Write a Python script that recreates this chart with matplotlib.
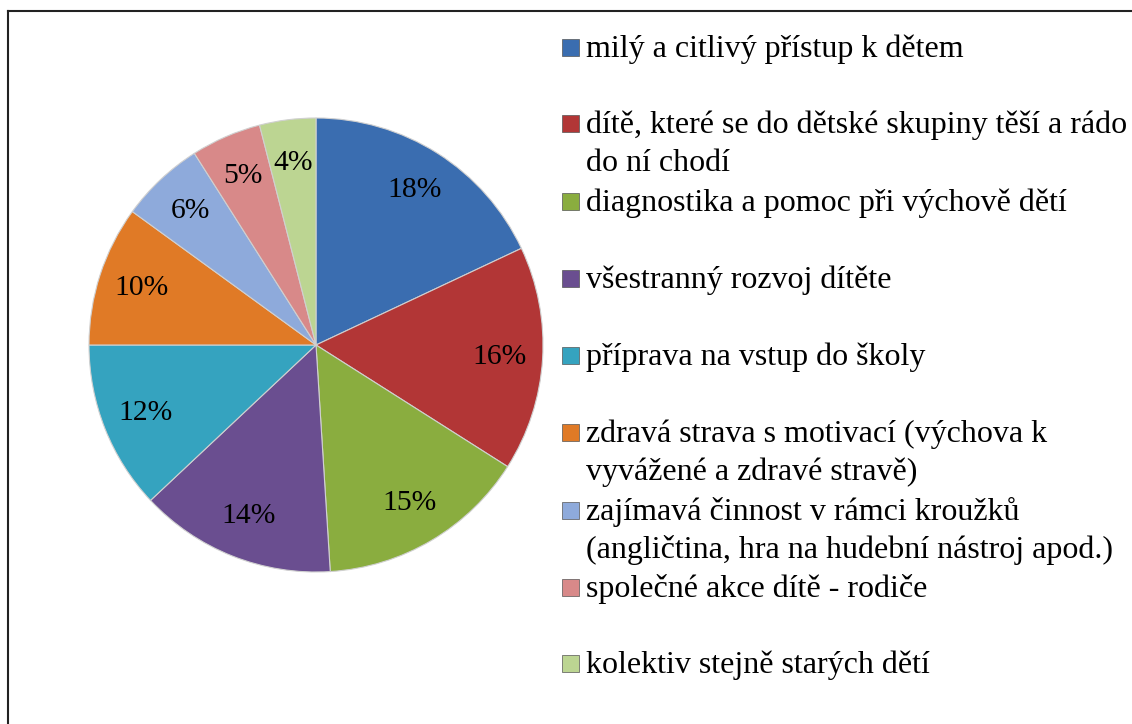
import matplotlib.pyplot as plt
from matplotlib.lines import Line2D
from matplotlib.patches import Rectangle

# data
labels = [
    'milý a citlivý přístup k dětem',
    'dítě, které se do dětské skupiny těší a rádo\ndo ní chodí',
    'diagnostika a pomoc při výchově dětí',
    'všestranný rozvoj dítěte',
    'příprava na vstup do školy',
    'zdravá strava s motivací (výchova k\nvyvážené a zdravé stravě)',
    'zajímavá činnost v rámci kroužků\n(angličtina, hra na hudební nástroj apod.)',
    'společné akce dítě - rodiče',
    'kolektiv stejně starých dětí',
]
shares = [18, 16, 15, 14, 12, 10, 6, 5, 4]
colors = ['#3A6DB0', '#B23636', '#8AAD3F', '#6A4E90', '#35A3BF',
          '#E07A26', '#8EAADB', '#D88989', '#BCD592']

plt.rcParams['font.family'] = ['Liberation Serif', 'DejaVu Serif']

W, H = 1132, 724
fig = plt.figure(figsize=(W / 100, H / 100), dpi=100)

# pie axes: centre (316, 345) px, radius 227 px
cx, cy, r = 316, 345, 227
ax = fig.add_axes([(cx - r) / W, (H - cy - r) / H, 2 * r / W, 2 * r / H])
wedges, texts, autotexts = ax.pie(
    shares, colors=colors, startangle=90, counterclock=False,
    autopct='%d%%', pctdistance=0.81, radius=1,
    wedgeprops=dict(edgecolor='#d0d0d0', linewidth=0.8),
    textprops=dict(fontsize=21.3, color='black'))
ax.set_xlim(-1, 1)
ax.set_ylim(-1, 1)
ax.set_aspect('equal')
ax.axis('off')

# legend drawn by hand to match the wrapped entries
baselines = [57, 133, 211, 288, 365, 442, 520, 597, 673]
line_gap = 38
for lab, col, yb in zip(labels, colors, baselines):
    for i, part in enumerate(lab.split('\n')):
        fig.text(586 / W, 1 - (yb + i * line_gap) / H, part, fontsize=23,
                 va='baseline', ha='left')
    fig.patches.append(Rectangle((562 / W, 1 - (yb - 1) / H), 17 / W, 17 / H,
                                 transform=fig.transFigure, facecolor=col,
                                 edgecolor='#555555', linewidth=0.5))

# chart frame (left and top edges visible)
fig.add_artist(Line2D([8 / W, 8 / W], [0, 1 - 11 / H], color='#222222', lw=1.5,
                      transform=fig.transFigure))
fig.add_artist(Line2D([8 / W, 1], [1 - 11 / H, 1 - 11 / H], color='#222222', lw=1.5,
                      transform=fig.transFigure))

fig.savefig('out.png', dpi=100, facecolor='white')
